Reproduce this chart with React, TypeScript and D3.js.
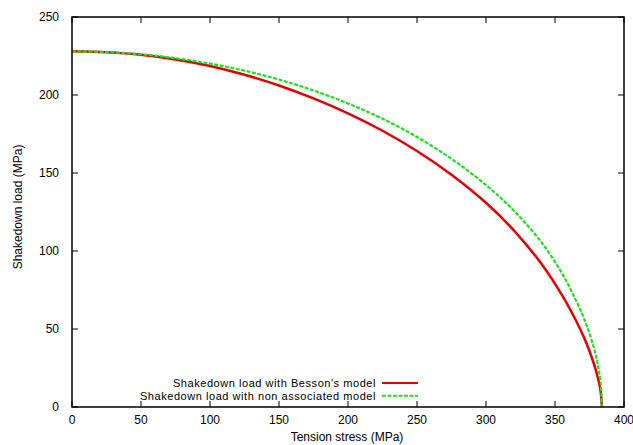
import React from "react";
import * as d3 from "d3";

const W = 633;
const H = 445;
const MARGIN = { top: 17, right: 9, bottom: 38, left: 72 };

// tension stress (MPa)
const stressRed = [0, 25, 50, 75, 100, 125, 150, 175, 200, 225, 250, 275, 300, 320, 340, 355, 365, 372, 378, 381, 383, 384];
const loadRed = [228, 227.4, 225.8, 222.8, 218.6, 213.0, 206.1, 197.8, 188.2, 177.1, 164.1, 148.9, 130.9, 113.4, 92.0, 71.9, 55.8, 42.6, 28.2, 18.9, 10.4, 0];

const stressGreen = [0, 25, 50, 75, 100, 125, 150, 175, 200, 225, 250, 275, 300, 320, 340, 355, 365, 372, 378, 381, 383, 384];
const loadGreen = [228, 227.5, 226.1, 223.6, 220.1, 215.6, 209.9, 202.9, 194.6, 184.8, 173.1, 159.1, 142.3, 126.0, 105.8, 85.8, 68.8, 54.6, 38.6, 27.4, 15.8, 0];

const xTicks = [0, 50, 100, 150, 200, 250, 300, 350, 400];
const yTicks = [0, 50, 100, 150, 200, 250];

const seriesNames = ["Shakedown load with Besson's model", "Shakedown load with non associated model"];

const App = () => {
  const bw = W - MARGIN.left - MARGIN.right;
  const bh = H - MARGIN.top - MARGIN.bottom;

  const xScale = d3.scaleLinear().domain([0, 400]).range([0, bw]);
  const yScale = d3.scaleLinear().domain([0, 250]).range([bh, 0]);

  const line = d3
    .line<[number, number]>()
    .x((d) => xScale(d[0]))
    .y((d) => yScale(d[1]))
    .curve(d3.curveCatmullRom.alpha(0.5));

  const redPath = line(stressRed.map((s, i) => [s, loadRed[i]]));
  const greenPath = line(stressGreen.map((s, i) => [s, loadGreen[i]]));

  const font = "'Liberation Sans', Arial, sans-serif";
  const tickLen = 6;

  return (
    <svg width={W} height={H} style={{ position: "absolute", left: 0, top: 0, background: "#fff" }}>
      <g transform={`translate(${MARGIN.left},${MARGIN.top})`} fontFamily={font} fontSize={12}>
        {/* ticks, gnuplot style (inward, mirrored) */}
        {xTicks.map((t) => (
          <g key={"x" + t}>
            <line x1={xScale(t)} x2={xScale(t)} y1={bh} y2={bh - tickLen} stroke="#000" strokeWidth={1} />
            <line x1={xScale(t)} x2={xScale(t)} y1={0} y2={tickLen} stroke="#000" strokeWidth={1} />
            <text x={xScale(t)} y={bh + 17} textAnchor="middle" fill="#000">{t}</text>
          </g>
        ))}
        {yTicks.map((t) => (
          <g key={"y" + t}>
            <line x1={0} x2={tickLen} y1={yScale(t)} y2={yScale(t)} stroke="#000" strokeWidth={1} />
            <line x1={bw} x2={bw - tickLen} y1={yScale(t)} y2={yScale(t)} stroke="#000" strokeWidth={1} />
            <text x={-13} y={yScale(t) + 4} textAnchor="end" fill="#000">{t}</text>
          </g>
        ))}

        <path d={redPath ?? ""} fill="none" stroke="#e00000" strokeWidth={2.5} />
        <path d={greenPath ?? ""} fill="none" stroke="#22dd22" strokeWidth={2.2} strokeDasharray="4 1.5" />

        {/* legend */}
        <g fontSize={11} letterSpacing={0.55}>
          <text x={304} y={bh - 20} textAnchor="end" fill="#000">{seriesNames[0]}</text>
          <text x={304} y={bh - 7} textAnchor="end" fill="#000">{seriesNames[1]}</text>
        </g>
        <line x1={310} x2={346} y1={bh - 24} y2={bh - 24} stroke="#e00000" strokeWidth={2} />
        <line x1={310} x2={346} y1={bh - 11.3} y2={bh - 11.3} stroke="#22dd22" strokeWidth={2} strokeDasharray="4 1.5" />

        <rect x={0} y={0} width={bw} height={bh} fill="none" stroke="#000" strokeWidth={1.5} />

        <text x={bw / 2 - 1} y={bh + 34} textAnchor="middle" fill="#000">Tension stress (MPa)</text>
        <text transform={`translate(${-50},${bh / 2 - 5}) rotate(-90)`} textAnchor="middle" fill="#000">
          Shakedown load (MPa)
        </text>
      </g>
    </svg>
  );
};

export default App;
